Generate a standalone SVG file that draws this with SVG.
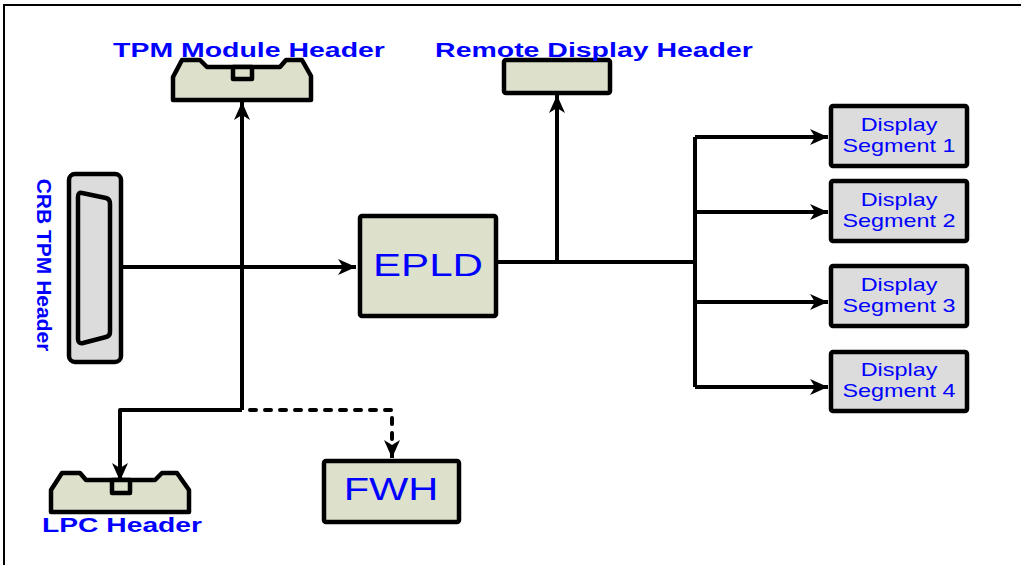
<svg xmlns="http://www.w3.org/2000/svg" width="1021" height="565" viewBox="0 0 1021 565">
<style>
.box{fill:#dde0cb;stroke:#000;stroke-width:4.5;stroke-linejoin:round}
.grey{fill:#dcdcdc;stroke:#000;stroke-width:4.5;stroke-linejoin:round}
.line{fill:none;stroke:#000;stroke-width:4;stroke-linejoin:round}
.dash{fill:none;stroke:#000;stroke-width:4;stroke-linecap:round;stroke-dasharray:6 9}
.lbl{font-family:"Liberation Sans",Arial,sans-serif;font-weight:bold;font-size:21px;fill:#0000ff;text-anchor:middle}
.big{font-family:"Liberation Sans",Arial,sans-serif;font-size:32px;fill:#0000ff;text-anchor:middle}
.seg{font-family:"Liberation Sans",Arial,sans-serif;font-size:18px;fill:#0000ff;text-anchor:middle}
</style>
<defs>
<marker id="ah" viewBox="-19 -9 20 18" refX="0" refY="0" markerWidth="20" markerHeight="18" markerUnits="userSpaceOnUse" orient="auto">
<path d="M0,0 L-18,-8 L-13,0 L-18,8 Z" fill="#000"/>
</marker>
</defs>
<rect width="1021" height="565" fill="#fff"/>
<path d="M4,565 L4,5 L1021,5" fill="none" stroke="#000" stroke-width="2"/>

<g id="connectors">
<path class="line" d="M122,267 L356,267" marker-end="url(#ah)"/>
<path class="line" d="M242,410 L242,102" marker-end="url(#ah)"/>
<path class="line" d="M242,410 L120,410 L120,481" marker-end="url(#ah)"/>
<path class="dash" d="M250,410 L392,410 L392,448"/>
<path class="line" d="M392,452 L392,458" marker-end="url(#ah)"/>
<path class="line" d="M493,262 L695,262"/>
<path class="line" d="M557,262 L557,95" marker-end="url(#ah)"/>
<path class="line" d="M695,137 L695,387"/>
<path class="line" d="M695,137 L828,137" marker-end="url(#ah)"/>
<path class="line" d="M695,212 L828,212" marker-end="url(#ah)"/>
<path class="line" d="M695,302 L828,302" marker-end="url(#ah)"/>
<path class="line" d="M695,387 L828,387" marker-end="url(#ah)"/>
<circle cx="493" cy="262" r="3" fill="#000"/>
</g>

<g id="tpm-module-header">
<path class="box" d="M173,77 L182,60 L200,60 L207,67 L280,67 L286,60 L302,60 L311,76 L311,100 L173,100 Z"/>
<rect class="box" x="233" y="67" width="19" height="12" stroke-width="3"/>
<text class="lbl" transform="translate(249,57) scale(1.355,1)">TPM Module Header</text>
</g>

<g id="remote-display-header">
<rect class="box" x="504" y="60" width="106" height="33" rx="2"/>
<text class="lbl" transform="translate(594,57) scale(1.355,1)">Remote Display Header</text>
</g>

<g id="crb-tpm-header">
<rect class="grey" x="69" y="174" width="52" height="188" rx="6"/>
<path class="grey" d="M82,193 L106,198 Q110,199 110,204 L110,332 Q110,336 106,337 L83,343 Q78,344 78,339 L78,197 Q78,192 82,193 Z"/>
<text class="lbl" transform="translate(37,265) rotate(90)">CRB TPM Header</text>
</g>

<g id="epld">
<rect class="box" x="360" y="216" width="136" height="100" rx="2"/>
<text class="big" transform="translate(428,276) scale(1.316,1)">EPLD</text>
</g>

<g id="lpc-header">
<path class="box" d="M51,490 L62,473 L80,473 L86,480 L155,480 L162,473 L177,473 L189,490 L189,512 L51,512 Z"/>
<rect class="box" x="112" y="480" width="18" height="13" stroke-width="3"/>
<text class="lbl" transform="translate(122,532) scale(1.345,1)">LPC Header</text>
</g>

<g id="fwh">
<rect class="box" x="324" y="461" width="135" height="61" rx="2"/>
<text class="big" transform="translate(391,500) scale(1.3,1)">FWH</text>
</g>

<g id="display-segment-1">
<rect class="grey" x="831" y="106" width="136" height="60" rx="2"/>
<text class="seg" transform="translate(899,131) scale(1.3,1)">Display</text>
<text class="seg" transform="translate(899,152) scale(1.3,1)">Segment 1</text>
</g>
<g id="display-segment-2">
<rect class="grey" x="831" y="181" width="136" height="60" rx="2"/>
<text class="seg" transform="translate(899,206) scale(1.3,1)">Display</text>
<text class="seg" transform="translate(899,227) scale(1.3,1)">Segment 2</text>
</g>
<g id="display-segment-3">
<rect class="grey" x="831" y="266" width="136" height="60" rx="2"/>
<text class="seg" transform="translate(899,291) scale(1.3,1)">Display</text>
<text class="seg" transform="translate(899,312) scale(1.3,1)">Segment 3</text>
</g>
<g id="display-segment-4">
<rect class="grey" x="831" y="352" width="136" height="59" rx="2"/>
<text class="seg" transform="translate(899,376) scale(1.3,1)">Display</text>
<text class="seg" transform="translate(899,397) scale(1.3,1)">Segment 4</text>
</g>
</svg>
